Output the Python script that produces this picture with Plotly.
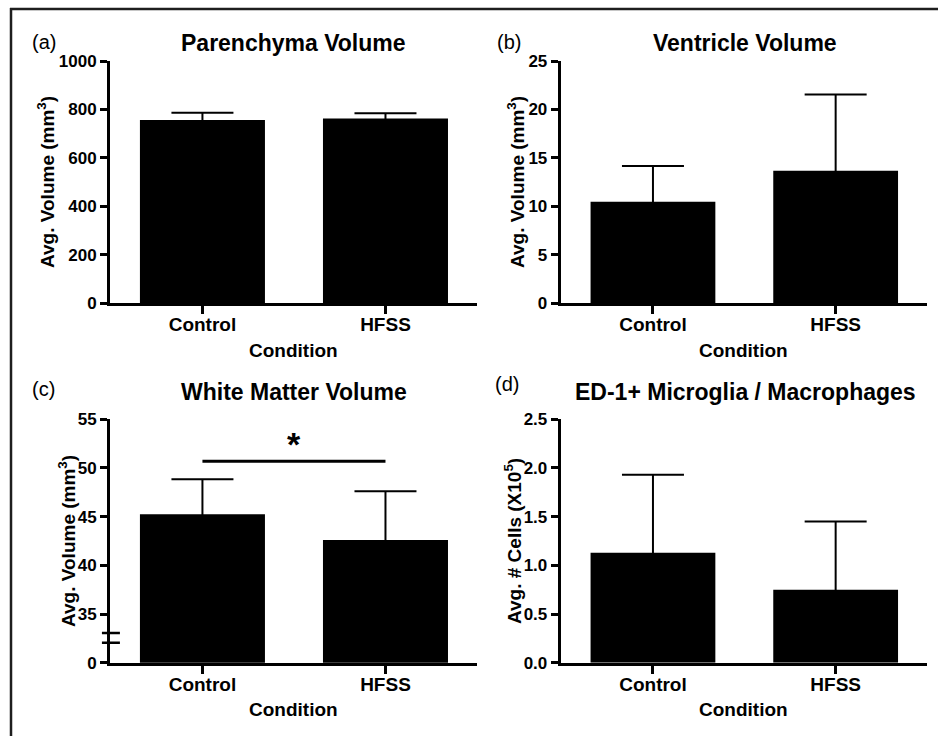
import plotly.graph_objects as go

W, H = 938, 736

categories = ["Control", "HFSS"]

parenchyma_mean = [756, 762]
parenchyma_err = [30, 22]

ventricle_mean = [10.45, 13.65]
ventricle_err = [3.7, 7.9]

white_mean = [45.25, 42.6]
white_err = [3.6, 5.0]
white_sig_y = 50.7
white_star_y = 52.5
white_break_y = [32.06, 33.06]

ed1_mean = [1.13, 0.75]
ed1_err = [0.80, 0.70]

panel_titles = ["Parenchyma Volume", "Ventricle Volume", "White Matter Volume",
                "ED-1+ Microglia / Macrophages"]
panel_letters = ["(a)", "(b)", "(c)", "(d)"]
y_titles = ["Avg. Volume (mm<sup>3</sup>)", "Avg. Volume (mm<sup>3</sup>)",
            "Avg. Volume (mm<sup>3</sup>)", "Avg. # Cells (X10<sup>5</sup>)"]
x_title = "Condition"

yticks_a = [0, 200, 400, 600, 800, 1000]
yticks_b = [0, 5, 10, 15, 20, 25]
yticks_c = [30, 35, 40, 45, 50, 55]
yticktext_c = ["0", "35", "40", "45", "50", "55"]
yticks_d = [0.0, 0.5, 1.0, 1.5, 2.0, 2.5]

FONT = "Liberation Sans, Arial, sans-serif"


def px_x(p):
    return p / W


def px_y(p):
    return 1 - p / H


fig = go.Figure()

# panel pixel boxes (left, right, top, bottom)
boxes = {
    1: (110, 477, 61, 303),
    2: (560.7, 927, 61, 303),
    3: (110, 477, 419.3, 662.7),
    4: (560.7, 927, 419.3, 662.7),
}

means = [parenchyma_mean, ventricle_mean, white_mean, ed1_mean]
errs = [parenchyma_err, ventricle_err, white_err, ed1_err]

for i in range(4):
    n = i + 1
    xa = "x" if n == 1 else f"x{n}"
    ya = "y" if n == 1 else f"y{n}"
    fig.add_trace(go.Bar(
        x=categories, y=means[i], xaxis=xa, yaxis=ya,
        marker=dict(color="black", line=dict(width=0)),
        width=0.683,
        error_y=dict(type="data", array=errs[i], symmetric=True,
                     color="black", thickness=2, width=31),
        showlegend=False,
    ))

layout_axes = {}
for n, (l, r, t, b) in boxes.items():
    xk = "xaxis" if n == 1 else f"xaxis{n}"
    yk = "yaxis" if n == 1 else f"yaxis{n}"
    ya = "y" if n == 1 else f"y{n}"
    xa = "x" if n == 1 else f"x{n}"
    layout_axes[xk] = dict(
        domain=[px_x(l), px_x(r)], anchor=ya, type="category",
        categoryorder="array", categoryarray=categories, automargin=False,
        range=[-0.505, 1.5], showline=True, linewidth=3, linecolor="black",
        ticks="outside", ticklen=8, tickwidth=3, tickcolor="black",
        ticklabelstandoff=-6,
        showgrid=False, zeroline=False,
        tickfont=dict(family=FONT, size=19, color="black", weight="bold"),
    )
    layout_axes[yk] = dict(
        domain=[px_y(b), px_y(t)], anchor=xa, automargin=False,
        showline=True, linewidth=3, linecolor="black",
        ticks="outside", ticklen=7, tickwidth=3, tickcolor="black",
        showgrid=False, zeroline=False,
        tickfont=dict(family=FONT, size=17, color="black", weight="bold"),
    )

layout_axes["yaxis"].update(range=[0, 1000], tickvals=yticks_a)
layout_axes["yaxis2"].update(range=[0, 25], tickvals=yticks_b)
layout_axes["yaxis3"].update(range=[30, 55], tickvals=yticks_c, ticktext=yticktext_c)
layout_axes["yaxis4"].update(range=[0, 2.5], tickvals=yticks_d, tickformat=".1f")

fig.update_layout(
    template="none",
    width=W, height=H, autosize=False,
    margin=dict(l=0, r=0, t=0, b=0, pad=0, autoexpand=False),
    paper_bgcolor="white", plot_bgcolor="white",
    **layout_axes,
)

annotations = []
shapes = []

# frame lines
shapes.append(dict(type="line", xref="paper", yref="paper",
                   x0=px_x(10), x1=1, y0=px_y(9), y1=px_y(9),
                   line=dict(color="#1e1e1e", width=2.5)))
shapes.append(dict(type="line", xref="paper", yref="paper",
                   x0=px_x(11), x1=px_x(11), y0=px_y(8), y1=0,
                   line=dict(color="#1e1e1e", width=2.5)))

letter_pos = [(44, 42), (509, 42), (43, 389), (507, 384)]
title_pos = [(293, 43), (745, 43), (294, 392), (745, 392)]
ytitle_x = [46, 516, 67, 513]

for i, (n, (l, r, t, b)) in enumerate(boxes.items()):
    lx, ly = letter_pos[i]
    annotations.append(dict(
        text=panel_letters[i], xref="paper", yref="paper",
        x=px_x(lx), y=px_y(ly), xanchor="center", yanchor="middle",
        showarrow=False, font=dict(family=FONT, size=20, color="black")))
    tx, ty = title_pos[i]
    annotations.append(dict(
        text="<b>" + panel_titles[i] + "</b>", xref="paper", yref="paper",
        x=px_x(tx), y=px_y(ty), xanchor="center", yanchor="middle",
        showarrow=False, font=dict(family=FONT, size=23, color="black")))
    annotations.append(dict(
        text="<b>" + y_titles[i] + "</b>", xref="paper", yref="paper",
        x=px_x(ytitle_x[i]), y=px_y((t + b) / 2), xanchor="center", yanchor="middle",
        textangle=-90, showarrow=False, font=dict(family=FONT, size=19, color="black")))
    annotations.append(dict(
        text="<b>" + x_title + "</b>", xref="paper", yref="paper",
        x=px_x((l + r) / 2), y=px_y(b + 47), xanchor="center", yanchor="middle",
        showarrow=False, font=dict(family=FONT, size=19, color="black")))

# significance line and star on panel (c)
shapes.append(dict(type="line", xref="x3", yref="y3",
                   x0=categories[0], x1=categories[1], y0=white_sig_y, y1=white_sig_y,
                   line=dict(color="black", width=3)))
annotations.append(dict(text="<b>*</b>", xref="x3", yref="y3", x=0.5, y=white_star_y,
                        xanchor="center", yanchor="middle", showarrow=False,
                        font=dict(family=FONT, size=34, color="black")))

# axis break marks on panel (c)
for yb in white_break_y:
    shapes.append(dict(type="line", xref="x3 domain", yref="y3",
                       x0=-0.022, x1=0.027, y0=yb, y1=yb,
                       line=dict(color="black", width=2.5)))

fig.update_layout(annotations=annotations, shapes=shapes)

css_fix = (
    "var s=document.createElement('style');"
    "s.textContent='html,body{margin:0!important;padding:0!important;overflow:hidden!important;}"
    ".plotly-graph-div{display:block;}';"
    "document.head.appendChild(s);"
)

fig.write_html(
    "out.html",
    config={"displayModeBar": False},
    post_script=css_fix,
)
